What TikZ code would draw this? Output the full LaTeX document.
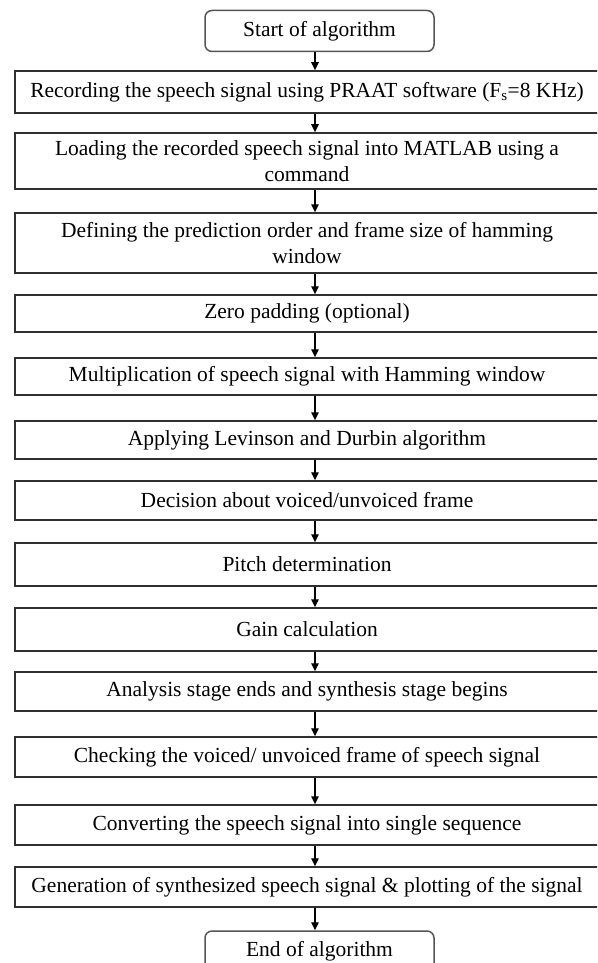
\documentclass[tikz,border=0pt]{standalone}
\usepackage{fontspec}
\setmainfont{Liberation Serif}
\usetikzlibrary{arrows.meta, positioning, calc}
\definecolor{cline}{HTML}{303030}
\definecolor{cround}{HTML}{555555}
\tikzset{
  every picture/.style={line width=1.5pt},
  stagebox/.style={draw=cline, fill=white, align=center, inner sep=0pt,
    minimum width=584pt, minimum height=#1, font=\fontsize{21.5}{26}\selectfont},
  stagebox/.default=40pt,
  termbox/.style={draw=cround, fill=white, rounded corners=7pt, align=center, inner sep=0pt,
    minimum width=229pt, minimum height=41pt, font=\fontsize{21.5}{26}\selectfont},
  arrow/.style={-{Triangle[length=8pt, width=7.5pt]}, draw=black, line width=1.3pt},
}

\begin{document}
\begin{tikzpicture}[x=1pt, y=-1pt]
  \useasboundingbox (0,0) rectangle (597,963);
  \clip (0,0) rectangle (597,963);
  \coordinate (spine) at (315,0);
  % terminals and stages, top to bottom
  \node[termbox] (start) at (319.5,31) {Start of algorithm};
  \node[stagebox=42pt] (rec) at (307,92) {Recording the speech signal using PRAAT software (F\textsubscript{s}=8 KHz)};
  \node[stagebox=56pt] (load) at (307,161) {Loading the recorded speech signal into MATLAB using a\\command};
  \node[stagebox=60pt] (def) at (307,243) {Defining the prediction order and frame size of hamming\\window};
  \node[stagebox=37pt] (zero) at (307,313.5) {Zero padding (optional)};
  \node[stagebox=37pt] (mult) at (307,376.5) {Multiplication of speech signal with Hamming window};
  \node[stagebox=38pt] (lev) at (307,440) {Applying Levinson and Durbin algorithm};
  \node[stagebox=39pt] (vuv) at (307,500.5) {Decision about voiced/unvoiced frame};
  \node[stagebox=43pt] (pitch) at (307,564.5) {Pitch determination};
  \node[stagebox=43pt] (gain) at (307,629.5) {Gain calculation};
  \node[stagebox=39pt] (stage) at (307,691.5) {Analysis stage ends and synthesis stage begins};
  \node[stagebox=40pt] (check) at (307,757) {Checking the voiced/ unvoiced frame of speech signal};
  \node[stagebox=40pt] (conv) at (307,825) {Converting the speech signal into single sequence};
  \node[stagebox=40pt] (synth) at (307,887) {Generation of synthesized speech signal \& plotting of the signal};
  \node[termbox] (stop) at (319.5,951.5) {End of algorithm};
  % connectors
  \draw[arrow] (start.south -| spine) -- (rec.north -| spine);
  \draw[arrow] (rec.south -| spine) -- (load.north -| spine);
  \draw[arrow] (load.south -| spine) -- (def.north -| spine);
  \draw[arrow] (def.south -| spine) -- (zero.north -| spine);
  \draw[arrow] (zero.south -| spine) -- (mult.north -| spine);
  \draw[arrow] (mult.south -| spine) -- (lev.north -| spine);
  \draw[arrow] (lev.south -| spine) -- (vuv.north -| spine);
  \draw[arrow] (vuv.south -| spine) -- (pitch.north -| spine);
  \draw[arrow] (pitch.south -| spine) -- (gain.north -| spine);
  \draw[arrow] (gain.south -| spine) -- (stage.north -| spine);
  \draw[arrow] (stage.south -| spine) -- (check.north -| spine);
  \draw[arrow] (check.south -| spine) -- (conv.north -| spine);
  \draw[arrow] (conv.south -| spine) -- (synth.north -| spine);
  \draw[arrow] (synth.south -| spine) -- (stop.north -| spine);
\end{tikzpicture}
\end{document}
